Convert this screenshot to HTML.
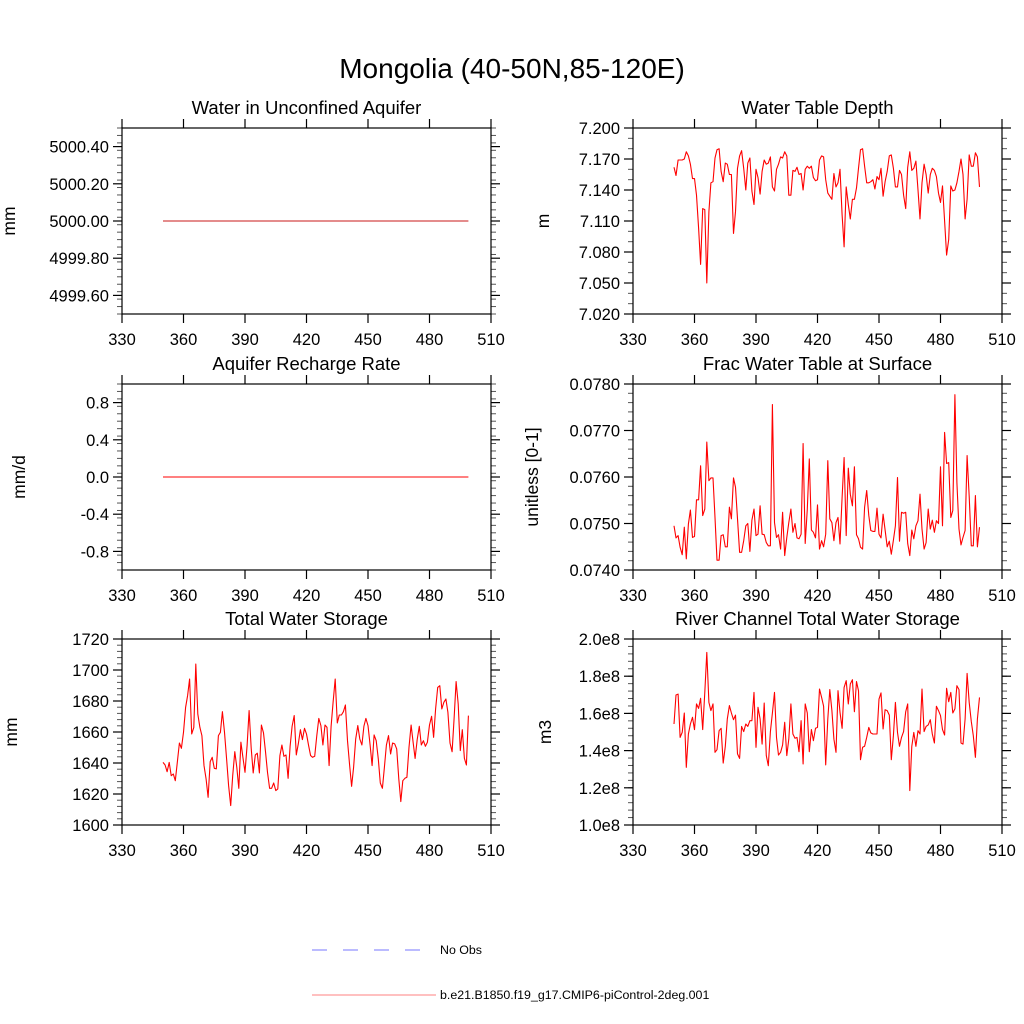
<!DOCTYPE html>
<html><head><meta charset="utf-8"><style>
html,body{margin:0;padding:0;background:#fff;}
svg{display:block;font-family:"Liberation Sans",Arial,sans-serif;}
</style></head><body>
<svg id="chart" width="1024" height="1024" viewBox="0 0 1024 1024">
<text x="512" y="78" font-size="28" text-anchor="middle">Mongolia (40-50N,85-120E)</text>
<g id="panels"></g>
<g>
<line x1="312" y1="950" x2="436" y2="950" stroke="#7777ff" stroke-width="1" stroke-dasharray="15,16"/>
<text x="440" y="954" font-size="12.4">No Obs</text>
<line x1="312" y1="995" x2="436" y2="995" stroke="#ff8080" stroke-width="1"/>
<text x="440" y="999" font-size="12.4">b.e21.B1850.f19_g17.CMIP6-piControl-2deg.001</text>
</g>
</svg>
<script>
const xTicks = [330,360,390,420,450,480,510];
const startYear = 350;
const aquiferWater = [5000,5000];
const rechargeRate = [0,0];
const waterTableDepth = [7.162,7.154,7.169,7.169,7.169,7.170,7.177,7.173,7.165,7.151,
7.151,7.135,7.103,7.068,7.122,7.121,7.050,7.119,7.147,7.148,
7.171,7.179,7.180,7.158,7.148,7.166,7.165,7.155,7.155,7.098,
7.119,7.161,7.173,7.178,7.161,7.140,7.166,7.171,7.139,7.126,
7.160,7.152,7.136,7.158,7.169,7.165,7.166,7.172,7.143,7.139,
7.160,7.165,7.172,7.171,7.177,7.173,7.135,7.135,7.159,7.158,
7.162,7.155,7.156,7.140,7.160,7.163,7.161,7.163,7.152,7.149,
7.150,7.169,7.173,7.172,7.150,7.137,7.134,7.131,7.156,7.143,
7.147,7.160,7.116,7.085,7.143,7.126,7.112,7.131,7.131,7.142,
7.161,7.179,7.180,7.163,7.147,7.147,7.148,7.150,7.141,7.153,
7.150,7.161,7.134,7.148,7.158,7.173,7.174,7.161,7.143,7.143,
7.159,7.155,7.135,7.122,7.162,7.177,7.159,7.161,7.168,7.140,
7.112,7.147,7.165,7.155,7.137,7.155,7.161,7.159,7.153,7.137,
7.128,7.144,7.110,7.077,7.092,7.144,7.139,7.140,7.147,7.158,
7.170,7.155,7.112,7.131,7.174,7.163,7.163,7.176,7.172,7.143];
const fracWaterTable = [0.07495,0.07469,0.07474,0.07449,0.07433,0.07492,0.07424,0.07499,0.07529,0.07470,
0.07472,0.07551,0.07551,0.07624,0.07517,0.07531,0.07675,0.07592,0.07598,0.07598,
0.07513,0.07421,0.07421,0.07474,0.07476,0.07450,0.07450,0.07535,0.07510,0.07598,
0.07578,0.07510,0.07438,0.07438,0.07463,0.07495,0.07500,0.07440,0.07507,0.07531,
0.07474,0.07477,0.07538,0.07477,0.07476,0.07459,0.07452,0.07452,0.07756,0.07502,
0.07470,0.07476,0.07445,0.07524,0.07431,0.07470,0.07502,0.07531,0.07481,0.07500,
0.07469,0.07467,0.07477,0.07672,0.07457,0.07531,0.07639,0.07486,0.07481,0.07469,
0.07540,0.07445,0.07463,0.07450,0.07477,0.07635,0.07510,0.07502,0.07463,0.07502,
0.07513,0.07456,0.07556,0.07642,0.07474,0.07619,0.07563,0.07538,0.07622,0.07476,
0.07467,0.07449,0.07445,0.07535,0.07571,0.07517,0.07485,0.07483,0.07483,0.07533,
0.07477,0.07469,0.07520,0.07486,0.07450,0.07462,0.07434,0.07464,0.07495,0.07599,
0.07462,0.07524,0.07522,0.07524,0.07457,0.07431,0.07486,0.07467,0.07495,0.07506,
0.07563,0.07488,0.07445,0.07459,0.07531,0.07488,0.07507,0.07481,0.07506,0.07500,
0.07622,0.07495,0.07696,0.07629,0.07631,0.07513,0.07528,0.07777,0.07588,0.07488,
0.07454,0.07470,0.07485,0.07646,0.07558,0.07452,0.07452,0.07560,0.07450,0.07492];
const totalWaterStorage = [1640.4,1638.7,1634.4,1640.4,1631.8,1632.9,1628.6,1640.4,1652.9,1649.5,
1659.8,1675.9,1683.5,1694.2,1658.7,1663.0,1703.9,1671.6,1663.0,1657.7,
1638.3,1629.7,1617.9,1640.9,1643.7,1636.6,1636.2,1657.7,1659.8,1673.1,
1659.8,1642.6,1625.4,1612.5,1631.8,1647.3,1637.2,1623.7,1653.4,1643.7,
1634.0,1651.2,1673.8,1649.5,1633.6,1645.2,1646.3,1633.6,1664.5,1659.4,
1647.3,1634.0,1623.7,1623.7,1627.1,1622.2,1623.3,1644.8,1651.6,1644.3,
1645.2,1630.1,1650.8,1663.7,1670.6,1645.2,1652.3,1661.5,1655.1,1662.4,
1658.7,1651.6,1644.8,1643.7,1644.3,1657.7,1668.8,1664.1,1651.6,1664.5,
1663.0,1638.3,1663.7,1679.2,1694.2,1665.8,1671.0,1671.0,1673.1,1677.4,
1654.4,1638.7,1625.0,1637.2,1655.5,1664.1,1655.5,1651.6,1663.7,1668.8,
1664.1,1651.6,1638.3,1658.1,1654.4,1642.6,1627.1,1623.7,1637.2,1651.6,
1657.7,1645.8,1652.9,1652.3,1649.1,1629.7,1615.1,1628.6,1630.1,1630.8,
1650.1,1664.5,1653.4,1643.0,1655.1,1663.7,1651.6,1654.4,1650.8,1653.4,
1664.5,1670.1,1656.6,1674.9,1688.8,1689.9,1674.9,1679.2,1681.3,1672.7,
1652.9,1647.3,1668.8,1692.5,1678.1,1648.0,1661.5,1643.0,1638.7,1670.6];
const riverStorage1e8 = [1.543,1.699,1.704,1.471,1.498,1.602,1.310,1.489,1.543,1.579,
1.513,1.651,1.627,1.681,1.513,1.713,1.928,1.659,1.615,1.651,
1.391,1.405,1.507,1.520,1.333,1.423,1.570,1.642,1.602,1.566,
1.591,1.382,1.358,1.530,1.502,1.543,1.530,1.561,1.561,1.713,
1.418,1.633,1.570,1.435,1.656,1.373,1.319,1.502,1.602,1.713,
1.471,1.376,1.391,1.430,1.552,1.373,1.462,1.651,1.489,1.466,
1.471,1.394,1.561,1.328,1.651,1.602,1.394,1.513,1.453,1.520,
1.525,1.731,1.686,1.638,1.323,1.570,1.728,1.615,1.462,1.391,
1.722,1.606,1.520,1.740,1.776,1.651,1.758,1.781,1.609,1.771,
1.722,1.351,1.418,1.423,1.471,1.525,1.495,1.489,1.489,1.489,
1.677,1.710,1.516,1.620,1.615,1.591,1.351,1.480,1.659,1.498,
1.423,1.471,1.502,1.609,1.651,1.185,1.423,1.498,1.423,1.507,
1.489,1.731,1.502,1.530,1.538,1.566,1.489,1.441,1.638,1.615,
1.588,1.513,1.484,1.735,1.663,1.713,1.602,1.624,1.749,1.728,
1.441,1.435,1.570,1.815,1.659,1.556,1.480,1.364,1.570,1.686];
const aqTicks = ["4999.60","4999.80","5000.00","5000.20","5000.40"];
const rrTicks = ["-0.8","-0.4","0.0","0.4","0.8"];
const wtdTicks = ["7.020","7.050","7.080","7.110","7.140","7.170","7.200"];
const fracTicks = ["0.0740","0.0750","0.0760","0.0770","0.0780"];
const twsTicks = ["1600","1620","1640","1660","1680","1700","1720"];
const rivTicks = ["1.0e8","1.2e8","1.4e8","1.6e8","1.8e8","2.0e8"];

const NS="http://www.w3.org/2000/svg";
const root=document.getElementById('panels');
function mk(tag,attrs,parent){const e=document.createElementNS(NS,tag);for(const k in attrs)e.setAttribute(k,attrs[k]);parent.appendChild(e);return e;}

const panels=[
 {key:'water-unconfined-aquifer',title:'Water in Unconfined Aquifer',unit:'mm',tx:15,x0:122,y0:128,ymin:4999.5,ymax:5000.5,ticks:aqTicks,minor:0.04,data:aquiferWater,flat:true,color:'#c81818',scale:1},
 {key:'water-table-depth',title:'Water Table Depth',unit:'m',tx:549,x0:633,y0:128,ymin:7.02,ymax:7.2,ticks:wtdTicks,minor:0.01,data:waterTableDepth,scale:1},
 {key:'aquifer-recharge-rate',title:'Aquifer Recharge Rate',unit:'mm/d',tx:25,x0:122,y0:384,ymin:-1,ymax:1,ticks:rrTicks,minor:0.08,data:rechargeRate,flat:true,scale:1},
 {key:'frac-water-table',title:'Frac Water Table at Surface',unit:'unitless [0-1]',tx:538,x0:633,y0:384,ymin:0.074,ymax:0.078,ticks:fracTicks,minor:0.0002,data:fracWaterTable,scale:1},
 {key:'total-water-storage',title:'Total Water Storage',unit:'mm',tx:17,x0:122,y0:639,ymin:1600,ymax:1720,ticks:twsTicks,minor:4,data:totalWaterStorage,scale:1},
 {key:'river-channel-storage',title:'River Channel Total Water Storage',unit:'m3',tx:551,x0:633,y0:639,ymin:1.0,ymax:2.0,ticks:rivTicks,minor:0.04,data:riverStorage1e8,scale:1e8}
];
const W=369,H=186;
panels.forEach(p=>{
 const g=mk('g',{},root);
 
 
 const sx=v=>p.x0+(v-330)/(510-330)*W;
 const sy=v=>p.y0+H-(v-p.ymin)/(p.ymax-p.ymin)*H;
 const t=mk('text',{x:p.x0+W/2,y:p.y0-14,'font-size':18.5,'text-anchor':'middle'},g);
 t.textContent=p.title;
 
 
 const n=Math.round((p.ymax-p.ymin)/p.minor);
 for(let i=0;i<=n;i++){const v=p.ymin+i*p.minor;const y=sy(v);
  mk('line',{x1:p.x0-5,x2:p.x0,y1:y,y2:y,stroke:'#555','stroke-width':1},g);
  mk('line',{x1:p.x0+W,x2:p.x0+W+5,y1:y,y2:y,stroke:'#555','stroke-width':1},g);}
 p.ticks.forEach(lbl=>{const v=parseFloat(lbl)/p.scale;const y=sy(v);
  mk('line',{x1:p.x0-9,x2:p.x0,y1:y,y2:y,stroke:'#000','stroke-width':1.2},g);
  mk('line',{x1:p.x0+W,x2:p.x0+W+9,y1:y,y2:y,stroke:'#000','stroke-width':1.2},g);
  const tl=mk('text',{x:p.x0-13,y:y+6,'font-size':16.5,'text-anchor':'end'},g);
  tl.textContent=lbl;
  
  
 });
 xTicks.forEach(v=>{const x=sx(v);
  mk('line',{x1:x,x2:x,y1:p.y0+H,y2:p.y0+H+9,stroke:'#000','stroke-width':1.2},g);
  mk('line',{x1:x,x2:x,y1:p.y0-9,y2:p.y0,stroke:'#000','stroke-width':1.2},g);
  const tl=mk('text',{x:x,y:p.y0+H+31,'font-size':16.5,'text-anchor':'middle'},g);
  tl.textContent=String(v);
  
  
 });
 const fr=mk('rect',{x:p.x0,y:p.y0,width:W,height:H,fill:'none',stroke:'#000','stroke-width':1.2},g);
 
 
 const yl=mk('text',{x:0,y:0,'font-size':17.5,'text-anchor':'middle',transform:`translate(${p.tx},${p.y0+H/2}) rotate(-90)`},g);
 yl.textContent=p.unit;
 
 
 let pts;
 if(p.flat){pts=[[sx(startYear),sy(p.data[0])],[sx(startYear+149),sy(p.data[1])]];}
 else{pts=p.data.map((v,i)=>[sx(startYear+i),sy(v)]);}
 const line=mk('polyline',{points:pts.map(q=>q[0].toFixed(1)+','+q[1].toFixed(1)).join(' '),fill:'none',stroke:p.color||'#ff0000','stroke-width':1.1,'stroke-linejoin':'round'},g);
 
 
});
</script>
</body></html>
